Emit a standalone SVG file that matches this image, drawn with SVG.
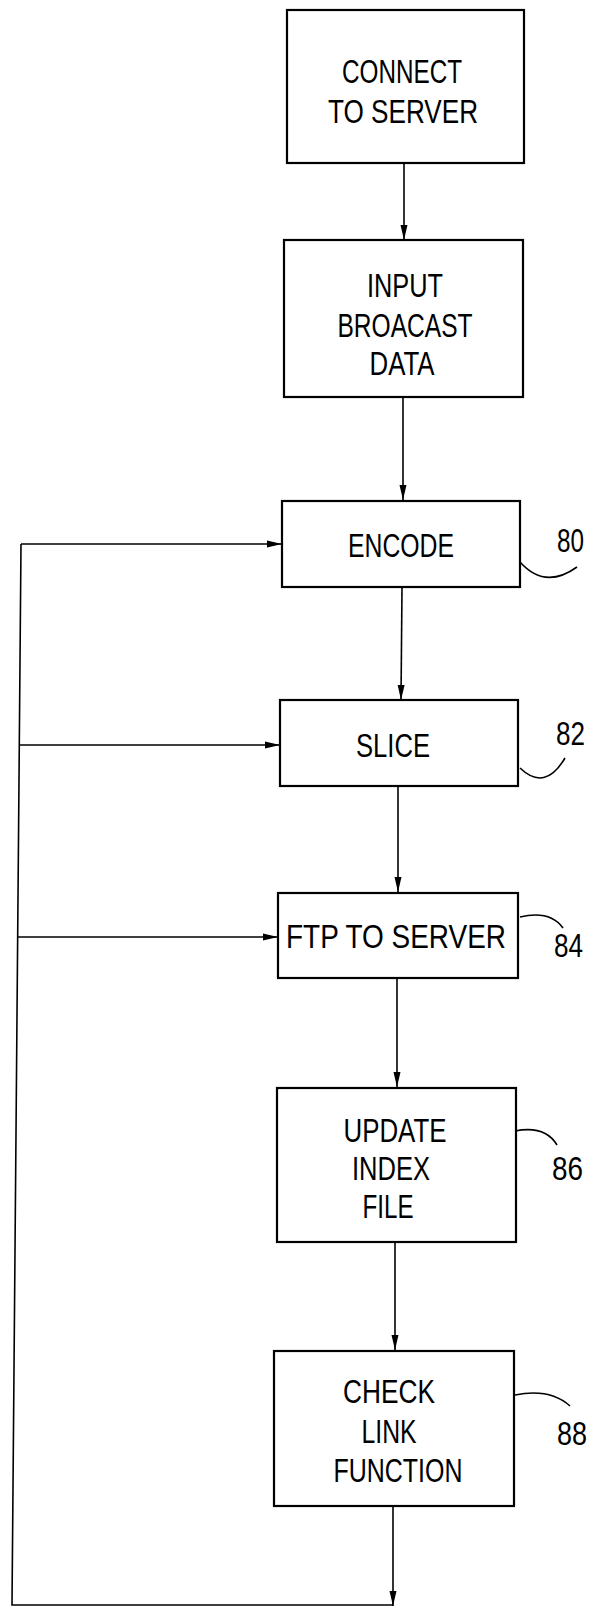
<svg xmlns="http://www.w3.org/2000/svg" width="593" height="1608" viewBox="0 0 593 1608">
<style>
.box{fill:#fff;stroke:#000;stroke-width:2.2}
.c{fill:none;stroke:#000;stroke-width:1.6}
.ld{fill:none;stroke:#000;stroke-width:1.6}
text{font-family:"Liberation Sans",Arial,sans-serif;font-size:33px;fill:#000;text-anchor:middle}
.lb{text-anchor:start}
</style>
<defs>
<marker id="ah" markerUnits="userSpaceOnUse" markerWidth="16" markerHeight="8" refX="15" refY="4" orient="auto">
<path d="M0,0.5 L15,4 L0,7.5 z" fill="#000"/>
</marker>
</defs>
<rect width="593" height="1608" fill="#fff"/>
<g id="connectors">
<line class="c" x1="404" y1="164" x2="404" y2="240" marker-end="url(#ah)"/>
<line class="c" x1="403" y1="397" x2="403" y2="500" marker-end="url(#ah)"/>
<line class="c" x1="402" y1="588" x2="401" y2="700" marker-end="url(#ah)"/>
<line class="c" x1="398" y1="787" x2="398" y2="892" marker-end="url(#ah)"/>
<line class="c" x1="397" y1="979" x2="397" y2="1087" marker-end="url(#ah)"/>
<line class="c" x1="395" y1="1243" x2="395" y2="1350" marker-end="url(#ah)"/>
<line class="c" x1="393" y1="1507" x2="393" y2="1606" marker-end="url(#ah)"/>
<polyline class="c" points="393,1605 12,1605 21,544"/>
<line class="c" x1="21" y1="544" x2="282" y2="544" marker-end="url(#ah)"/>
<line class="c" x1="19.3" y1="745" x2="280" y2="745" marker-end="url(#ah)"/>
<line class="c" x1="17.7" y1="937" x2="278" y2="937" marker-end="url(#ah)"/>
</g>
<g id="n1">
<rect class="box" x="287" y="10" width="237" height="153"/>
<text x="402" y="83" textLength="120" lengthAdjust="spacingAndGlyphs">CONNECT</text>
<text x="403" y="123" textLength="150" lengthAdjust="spacingAndGlyphs">TO  SERVER</text>
</g>
<g id="n2">
<rect class="box" x="284" y="240" width="239" height="157"/>
<text x="405" y="297" textLength="76" lengthAdjust="spacingAndGlyphs">INPUT</text>
<text x="405" y="337" textLength="135" lengthAdjust="spacingAndGlyphs">BROACAST</text>
<text x="402" y="375" textLength="65" lengthAdjust="spacingAndGlyphs">DATA</text>
</g>
<g id="n80">
<rect class="box" x="282" y="501" width="238" height="86"/>
<text x="401" y="557" textLength="106" lengthAdjust="spacingAndGlyphs">ENCODE</text>
<path class="ld" d="M520,562 Q545,590 577,567"/>
<text class="lb" x="557" y="552" textLength="27" lengthAdjust="spacingAndGlyphs">80</text>
</g>
<g id="n82">
<rect class="box" x="280" y="700" width="238" height="86"/>
<text x="393" y="757" textLength="74" lengthAdjust="spacingAndGlyphs">SLICE</text>
<path class="ld" d="M520,768 Q545,792 565,758"/>
<text class="lb" x="556" y="745" textLength="29" lengthAdjust="spacingAndGlyphs">82</text>
</g>
<g id="n84">
<rect class="box" x="278" y="893" width="240" height="85"/>
<text x="396" y="948" textLength="220" lengthAdjust="spacingAndGlyphs">FTP  TO  SERVER</text>
<path class="ld" d="M520,917 Q550,910 563,928"/>
<text class="lb" x="554" y="957" textLength="29" lengthAdjust="spacingAndGlyphs">84</text>
</g>
<g id="n86">
<rect class="box" x="277" y="1088" width="239" height="154"/>
<text x="395" y="1142" textLength="103" lengthAdjust="spacingAndGlyphs">UPDATE</text>
<text x="391" y="1180" textLength="78" lengthAdjust="spacingAndGlyphs">INDEX</text>
<text x="388" y="1218" textLength="51" lengthAdjust="spacingAndGlyphs">FILE</text>
<path class="ld" d="M515,1131 Q545,1125 557,1145"/>
<text class="lb" x="552" y="1180" textLength="31" lengthAdjust="spacingAndGlyphs">86</text>
</g>
<g id="n88">
<rect class="box" x="274" y="1351" width="240" height="155"/>
<text x="389" y="1403" textLength="92" lengthAdjust="spacingAndGlyphs">CHECK</text>
<text x="389" y="1443" textLength="55" lengthAdjust="spacingAndGlyphs">LINK</text>
<text x="398" y="1482" textLength="129" lengthAdjust="spacingAndGlyphs">FUNCTION</text>
<path class="ld" d="M515,1395 Q550,1388 570,1406"/>
<text class="lb" x="557" y="1445" textLength="30" lengthAdjust="spacingAndGlyphs">88</text>
</g>
</svg>
